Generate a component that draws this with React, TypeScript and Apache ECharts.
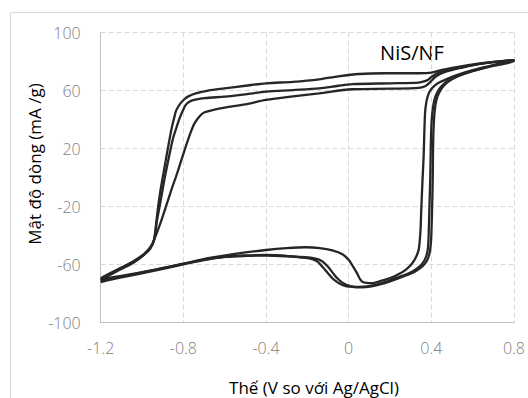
import React, { useEffect, useRef } from "react";
import * as echarts from "echarts";

// Axis settings (tick labels derive from these)
const X_MIN = -1.2;
const X_MAX = 0.8;
const X_STEP = 0.4;
const Y_MIN = -100;
const Y_MAX = 100;
const Y_STEP = 40;

const TITLE = "NiS/NF";
const X_TITLE = "Thế (V so với Ag/AgCl)";
const Y_TITLE = "Mật độ dòng (mA /g)";

// Cycle 1: forward (anodic) sweep then reverse sweep  [potential V, current density mA/g]
const cycle1Forward: number[][] = [
  [-1.2, -70.5], [-1.16, -67], [-1.1, -62.5], [-1.04, -58], [-0.99, -53], [-0.96, -48.5],
  [-0.942, -43], [-0.91, -31], [-0.882, -19], [-0.858, -8.5], [-0.83, 3], [-0.794, 19],
  [-0.765, 31], [-0.746, 37.4], [-0.72, 42.5], [-0.697, 45], [-0.65, 46.8], [-0.6, 48.2],
  [-0.5, 50.5], [-0.4, 53.5], [-0.27, 56], [-0.143, 58.1], [0.017, 60.9], [0.2, 61.3],
  [0.339, 61.8], [0.37, 63], [0.392, 65.5], [0.42, 69.5], [0.46, 72.5], [0.55, 75.8],
  [0.644, 78.5], [0.8, 81],
];
const cycle1Reverse: number[][] = [
  [0.8, 80.6], [0.7, 77.5], [0.6, 74], [0.52, 70.5], [0.483, 68.4], [0.445, 66],
  [0.419, 63.8], [0.397, 60.5], [0.385, 57], [0.376, 52], [0.37, 45], [0.366, 30],
  [0.363, 15], [0.358, 0], [0.352, -20], [0.347, -38], [0.339, -49.5], [0.325, -55],
  [0.305, -59.5], [0.28, -63], [0.25, -66], [0.21, -68.8], [0.15, -71.5], [0.114, -72.8],
  [0.088, -72.6], [0.066, -71.7], [0.055, -70], [0.041, -66], [0.02, -61], [0.001, -56.8],
  [-0.03, -52.8], [-0.079, -50.2], [-0.14, -48.6], [-0.207, -48], [-0.3, -48.6],
  [-0.4, -49.9], [-0.55, -52.6], [-0.673, -55.4], [-0.8, -59.3], [-0.95, -63.8],
  [-1.1, -67.8], [-1.2, -70],
];

// Cycle 2
const cycle2Forward: number[][] = [
  [-1.2, -69.5], [-1.16, -66.3], [-1.1, -62], [-1.04, -57.5], [-0.99, -52.5], [-0.96, -48],
  [-0.942, -43], [-0.928, -30], [-0.915, -20], [-0.9, -8], [-0.89, 0], [-0.87, 14],
  [-0.85, 27], [-0.83, 36], [-0.818, 41], [-0.8, 47], [-0.786, 50.5], [-0.76, 53],
  [-0.697, 54.7], [-0.6, 55.8], [-0.5, 57.4], [-0.4, 59.2], [-0.27, 60.3], [-0.143, 61.5],
  [-0.05, 63.3], [0.017, 64.4], [0.2, 65], [0.339, 65.5], [0.365, 66.3], [0.385, 67.5],
  [0.405, 69.8], [0.44, 72.5], [0.55, 76.3], [0.644, 78.6], [0.8, 81],
];
const cycle2Reverse: number[][] = [
  [0.8, 80.3], [0.7, 77], [0.6, 73.3], [0.53, 70], [0.49, 67.5], [0.46, 64.5],
  [0.438, 61], [0.42, 56], [0.41, 50], [0.402, 40], [0.398, 25], [0.395, 0],
  [0.391, -20], [0.387, -40], [0.384, -48], [0.378, -53], [0.365, -57.5], [0.345, -61],
  [0.307, -64.9], [0.27, -67.2], [0.226, -69.4], [0.18, -71.8], [0.146, -73.3],
  [0.1, -74.8], [0.05, -75.3], [0.001, -75.2], [-0.025, -74.3], [-0.047, -72.8],
  [-0.065, -71], [-0.079, -69.4], [-0.1, -66], [-0.127, -61.4], [-0.155, -57.5],
  [-0.191, -55.6], [-0.3, -54], [-0.4, -53.3], [-0.5, -53.6], [-0.593, -54.4],
  [-0.7, -56.5], [-0.8, -59.5], [-0.95, -64], [-1.1, -68.2], [-1.2, -71],
];

// Cycle 3
const cycle3Forward: number[][] = [
  [-1.2, -71], [-1.16, -67.5], [-1.1, -63], [-1.04, -58.5], [-0.99, -53.2], [-0.96, -49],
  [-0.942, -43], [-0.932, -32], [-0.922, -20], [-0.912, -10], [-0.9, 0], [-0.885, 12],
  [-0.87, 24], [-0.855, 35], [-0.843, 42], [-0.834, 46.5], [-0.815, 51], [-0.795, 54],
  [-0.778, 55.8], [-0.74, 58], [-0.68, 60], [-0.601, 61.5], [-0.5, 63.3], [-0.4, 65],
  [-0.27, 66], [-0.143, 67.7], [-0.05, 69.8], [0.05, 71.4], [0.178, 71.9], [0.339, 71.9],
  [0.4, 72.3], [0.451, 74.2], [0.55, 76.8], [0.644, 78.8], [0.8, 81],
];
const cycle3Reverse: number[][] = [
  [0.8, 81], [0.7, 77.3], [0.6, 73.5], [0.54, 70.5], [0.5, 67.8], [0.47, 64.8],
  [0.448, 61], [0.43, 56], [0.42, 50], [0.413, 40], [0.409, 25], [0.407, 0],
  [0.404, -20], [0.4, -40], [0.396, -48], [0.39, -53], [0.378, -57.5], [0.358, -61],
  [0.32, -64.8], [0.28, -67.3], [0.24, -69.5], [0.19, -72], [0.155, -73.5], [0.11, -75],
  [0.06, -75.6], [0.025, -75.4], [0.0, -74.5], [-0.023, -73], [-0.04, -71.3],
  [-0.055, -69.4], [-0.075, -66], [-0.1, -61.5], [-0.128, -57.6], [-0.165, -55.6],
  [-0.3, -54.2], [-0.4, -53.7], [-0.5, -54], [-0.593, -54.7], [-0.7, -56.8],
  [-0.8, -59.8], [-0.95, -64.5], [-1.1, -68.8], [-1.2, -72],
];

const cycles = [
  { name: "Chu kỳ 1", data: [...cycle1Forward, ...cycle1Reverse] },
  { name: "Chu kỳ 2", data: [...cycle2Forward, ...cycle2Reverse] },
  { name: "Chu kỳ 3", data: [...cycle3Forward, ...cycle3Reverse] },
];

const FONT = '"Open Sans", "Noto Sans", sans-serif';

export default function App() {
  const ref = useRef<HTMLDivElement>(null);
  useEffect(() => {
    document.body.style.margin = "0";
    const chart = echarts.init(ref.current as HTMLDivElement, null, { renderer: "svg" });
    const fmtX = (v: number) => {
      const r = Math.round(v * 10) / 10;
      return r === 0 ? "0" : r.toFixed(1);
    };
    chart.setOption({
      animation: false,
      backgroundColor: "#ffffff",
      grid: { left: 100.7, right: 12.3, top: 32.5, bottom: 75.3, containLabel: false },
      xAxis: {
        type: "value",
        min: X_MIN,
        max: X_MAX,
        interval: X_STEP,
        axisLine: { show: true, onZero: false, lineStyle: { color: "#bfbfbf", width: 1 } },
        axisTick: { show: false },
        axisLabel: {
          color: "#808080",
          fontSize: 16,
          fontWeight: 300,
          fontFamily: FONT,
          margin: 17,
          formatter: fmtX,
        },
        splitLine: { show: true, lineStyle: { color: "#d9d9d9", type: [5, 3], width: 1 } },
      },
      yAxis: {
        type: "value",
        min: Y_MIN,
        max: Y_MAX,
        interval: Y_STEP,
        axisLine: { show: true, onZero: false, lineStyle: { color: "#bfbfbf", width: 1 } },
        axisTick: { show: false },
        axisLabel: {
          color: "#808080",
          fontSize: 16,
          fontWeight: 300,
          fontFamily: FONT,
          margin: 20,
        },
        splitLine: { show: true, lineStyle: { color: "#d9d9d9", type: [5, 3], width: 1 } },
      },
      series: cycles.map((c) => ({
        type: "line",
        name: c.name,
        data: c.data,
        showSymbol: false,
        symbol: "none",
        smooth: 0.3,
        lineStyle: { color: "#262626", width: 2.3 },
        clip: false,
      })),
      graphic: [
        {
          type: "rect",
          silent: true,
          shape: { x: 10.5, y: 12.5, width: 700, height: 600 },
          style: { fill: "none", stroke: "#d9d9d9", lineWidth: 1 },
          z: -10,
        },
        {
          type: "text",
          x: 412,
          y: 52,
          style: {
            text: TITLE,
            fill: "#000000",
            fontSize: 20,
            fontFamily: FONT,
            textAlign: "center",
            textVerticalAlign: "middle",
            align: "center",
            verticalAlign: "middle",
          },
        },
        {
          type: "text",
          x: 314,
          y: 387,
          style: {
            text: X_TITLE,
            fill: "#000000",
            fontSize: 17,
            fontFamily: FONT,
            textAlign: "center",
            textVerticalAlign: "middle",
            align: "center",
            verticalAlign: "middle",
          },
        },
        {
          type: "text",
          x: 34,
          y: 164,
          rotation: Math.PI / 2,
          style: {
            text: Y_TITLE,
            fill: "#000000",
            fontSize: 17,
            fontFamily: FONT,
            textAlign: "center",
            textVerticalAlign: "middle",
            align: "center",
            verticalAlign: "middle",
          },
        },
      ],
    });
    return () => chart.dispose();
  }, []);
  return <div ref={ref} style={{ width: 528, height: 398 }} />;
}
